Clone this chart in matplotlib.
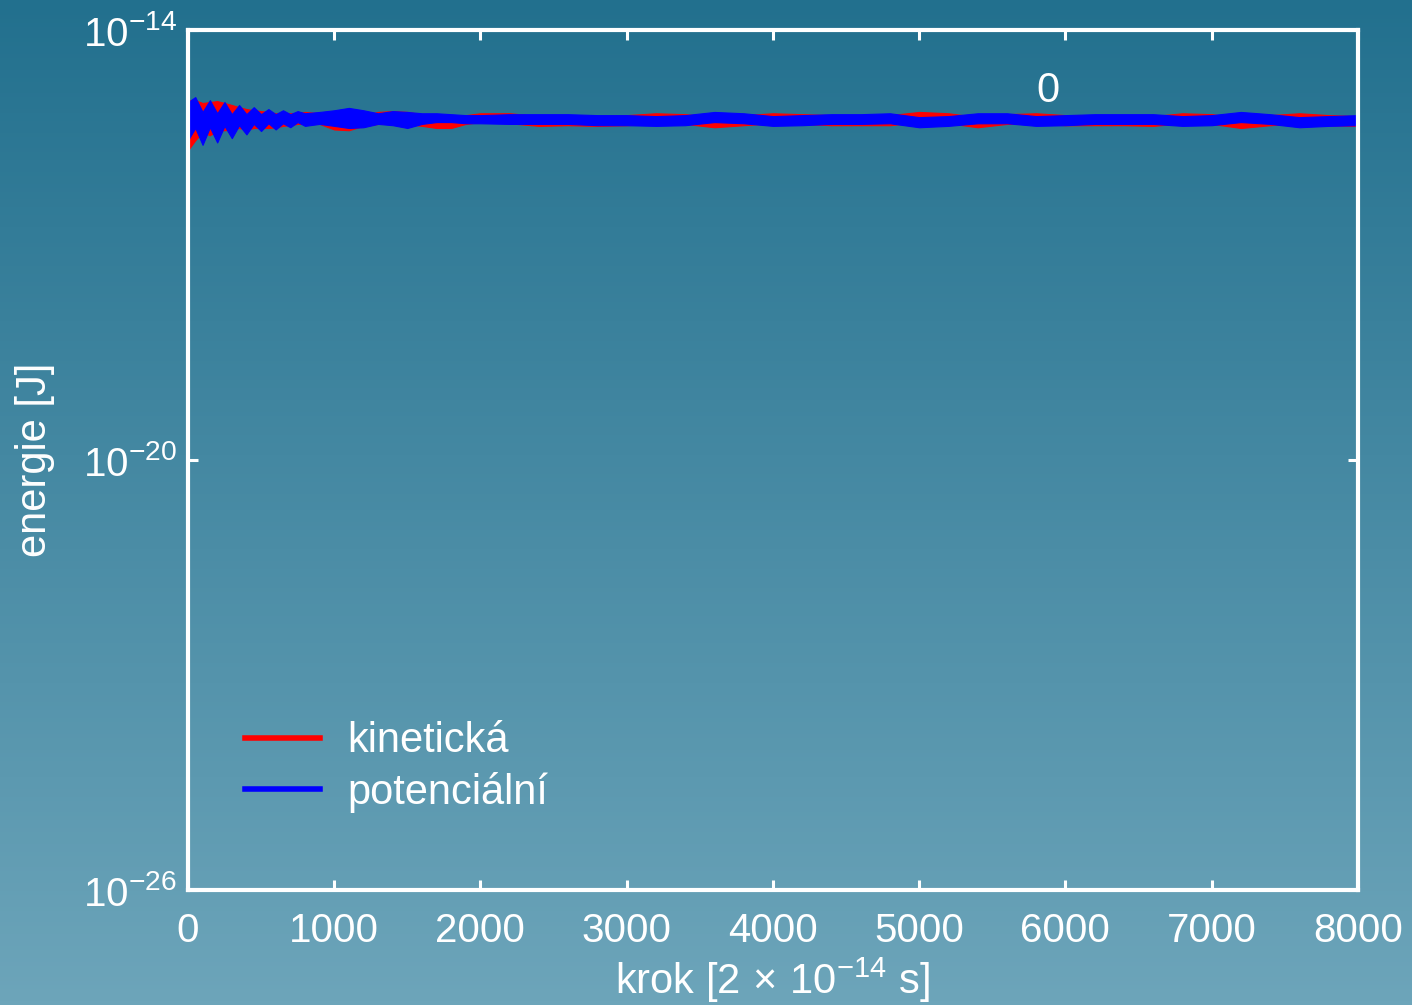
import numpy as np
import matplotlib
matplotlib.use("Agg")
import matplotlib.pyplot as plt
from matplotlib.lines import Line2D

plt.rcParams['font.family'] = ['Liberation Sans', 'DejaVu Sans']
plt.rcParams['mathtext.fontset'] = 'custom'
plt.rcParams['mathtext.rm'] = 'Liberation Sans'
plt.rcParams['mathtext.it'] = 'Liberation Sans:italic'
plt.rcParams['mathtext.bf'] = 'Liberation Sans:bold'

# simulation step (x), energies given as band envelopes in units of 1e-16 J
steps = [0, 50, 100, 150, 200, 250, 300, 350, 400, 450, 500, 550, 600, 650, 700, 750, 800,
         900, 1000, 1100, 1200, 1300, 1400, 1500, 1600, 1700, 1800, 1900, 2000,
         2200, 2400, 2600, 2800, 3000, 3200, 3400, 3600, 3800, 4000, 4200, 4400, 4600, 4800,
         5000, 5200, 5400, 5600, 5800, 6000, 6200, 6400, 6600, 6800, 7000, 7200, 7400, 7600,
         7800, 8000]

kin_hi = [10.5, 10.5, 9.6, 9.9, 10.2, 9.6, 9.0, 8.4, 7.9, 7.6, 7.4, 7.2, 6.9, 6.9, 6.9, 6.9, 7.2,
          6.9, 6.7, 6.5, 6.5, 7.2, 7.4, 7.2, 6.7, 6.3, 6.3, 6.5, 6.9,
          6.9, 6.3, 6.5, 6.3, 6.5, 6.9, 6.7, 6.1, 6.5, 6.9, 6.7, 6.5, 6.5, 6.5,
          7.2, 6.9, 6.1, 6.7, 6.9, 6.5, 6.5, 6.5, 6.3, 6.9, 6.7, 5.9, 6.5, 6.9,
          6.5, 6.3]
kin_lo = [2.1, 2.9, 3.8, 3.4, 4.0, 4.0, 4.1, 4.3, 4.1, 4.3, 4.3, 4.3, 4.4, 4.6, 4.7, 4.9, 4.9,
          4.9, 4.1, 4.0, 4.6, 4.9, 5.0, 4.9, 4.6, 4.3, 4.3, 4.9, 5.2,
          5.0, 4.6, 4.7, 4.6, 4.7, 5.0, 4.9, 4.4, 4.7, 5.0, 4.9, 4.7, 4.7, 4.7,
          5.2, 5.0, 4.4, 4.9, 5.0, 4.7, 4.7, 4.7, 4.6, 5.0, 4.9, 4.3, 4.7, 5.0,
          4.7, 4.6]

pot_hi = [9.9, 11.6, 7.2, 10.5, 6.9, 9.9, 6.7, 9.0, 6.7, 8.4, 6.7, 7.9, 6.7, 7.6, 6.7, 7.4, 6.9,
          7.2, 7.6, 8.2, 7.6, 6.9, 7.4, 7.2, 6.9, 6.9, 6.7, 6.5, 6.5,
          6.7, 6.7, 6.7, 6.5, 6.5, 6.3, 6.5, 7.2, 6.9, 6.3, 6.5, 6.7, 6.7, 6.9,
          6.1, 6.3, 6.9, 6.9, 6.3, 6.5, 6.7, 6.7, 6.7, 6.3, 6.5, 7.2, 6.7, 6.1,
          6.3, 6.5]
pot_lo = [2.9, 4.3, 2.5, 4.4, 2.7, 4.6, 3.1, 4.7, 3.5, 4.9, 3.9, 5.0, 4.1, 5.0, 4.4, 5.2, 4.6,
          4.9, 4.6, 4.3, 4.4, 4.9, 4.7, 4.3, 4.9, 5.2, 5.2, 5.0, 5.0,
          4.9, 4.9, 4.9, 4.7, 4.7, 4.6, 4.7, 5.2, 5.0, 4.6, 4.7, 4.9, 4.9, 5.0,
          4.4, 4.6, 5.0, 5.0, 4.6, 4.7, 4.9, 4.9, 4.9, 4.6, 4.7, 5.2, 4.9, 4.4,
          4.6, 4.7]

labels = ['kinetická', 'potenciální']
colors = ['#ff0000', '#0000ff']
yticks = [1e-26, 1e-20, 1e-14]
xticks = [0, 1000, 2000, 3000, 4000, 5000, 6000, 7000, 8000]

fig = plt.figure(figsize=(14.12, 10.05), dpi=100)

# vertical gradient background
bg = fig.add_axes([0, 0, 1, 1], zorder=-10)
top = np.array([34, 112, 142]) / 255.0
bot = np.array([109, 165, 186]) / 255.0
t = np.linspace(0, 1, 256)[:, None]
grad = top[None, :] * (1 - t) + bot[None, :] * t
bg.imshow(grad[:, None, :], aspect='auto', extent=[0, 1, 0, 1])
bg.set_axis_off()

ax = fig.add_axes([0.1331, 0.1144, 0.8286, 0.8557])
ax.set_facecolor('none')

x = np.array(steps)
scale = 1e-16
bands = [(kin_lo, kin_hi), (pot_lo, pot_hi)]
for (lo, hi), c in zip(bands, colors):
    ax.fill_between(x, np.array(lo) * scale, np.array(hi) * scale,
                    color=c, lw=0.8, edgecolor=c)

ax.set_yscale('log')
ax.set_xlim(0, 8000)
ax.set_ylim(1e-26, 1e-14)
ax.set_yticks(yticks)
ax.minorticks_off()
ax.set_xticks(xticks)

for s in ax.spines.values():
    s.set_color('white')
    s.set_linewidth(3)
ax.tick_params(axis='both', which='both', direction='in', colors='white',
               length=7, width=2.2, labelsize=29, top=True, right=True)
ax.tick_params(axis='x', pad=16)
ax.tick_params(axis='y', pad=8)

ax.set_xlabel(r'krok [2$\,\times\,$10$^{-14}$ s]', color='white', fontsize=30, labelpad=4)
ax.set_ylabel('energie [J]', color='white', fontsize=30, labelpad=20)

ax.text(5880, 1.4e-15, '0', color='white', fontsize=30, ha='center', va='center')

handles = [Line2D([], [], color=c, lw=4) for c in colors]
leg = ax.legend(handles, labels, loc='lower left', bbox_to_anchor=(0.049, 0.09),
                frameon=False, fontsize=30, handlelength=1.8, handletextpad=0.65,
                labelspacing=0.25, borderpad=0, borderaxespad=0)
for txt in leg.get_texts():
    txt.set_color('white')

fig.savefig('out.png', dpi=100)
